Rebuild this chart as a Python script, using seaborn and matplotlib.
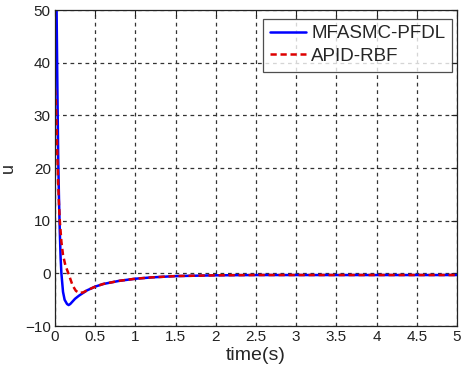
import numpy as np
import pandas as pd
import seaborn as sns
import matplotlib
matplotlib.use("Agg")
import matplotlib.pyplot as plt

t_blue = [0.0, 0.02, 0.03, 0.04, 0.05, 0.06, 0.07, 0.08, 0.10, 0.12, 0.15, 0.17, 0.19, 0.22, 0.25, 0.30,
          0.40, 0.50, 0.60, 0.80, 1.00, 1.20, 1.50, 2.00, 2.50, 3.00, 4.00, 5.00]
u_blue = [60.0, 50.0, 35.0, 22.0, 14.0, 8.0, 3.0, 0.0, -3.5, -5.0, -5.8, -6.0, -5.8, -5.3, -4.8, -4.2,
          -3.2, -2.5, -2.0, -1.4, -1.0, -0.75, -0.5, -0.35, -0.3, -0.3, -0.3, -0.3]

t_red = [0.0, 0.01, 0.02, 0.03, 0.04, 0.05, 0.06, 0.08, 0.10, 0.13, 0.16, 0.19, 0.22, 0.26, 0.30,
         0.35, 0.40, 0.50, 0.60, 0.80, 1.00, 1.20, 1.50, 2.00, 2.50, 3.00, 4.00, 5.00]
u_red = [35.0, 33.0, 28.0, 22.0, 17.0, 13.0, 10.0, 6.0, 3.5, 1.5, 0.3, -1.0, -2.3, -3.3, -3.7,
         -3.6, -3.2, -2.5, -2.0, -1.4, -1.0, -0.75, -0.5, -0.35, -0.3, -0.3, -0.3, -0.3]

labels = ["MFASMC-PFDL", "APID-RBF"]
x_ticks = [0, 0.5, 1, 1.5, 2, 2.5, 3, 3.5, 4, 4.5, 5]
x_tick_labels = ["0", "0.5", "1", "1.5", "2", "2.5", "3", "3.5", "4", "4.5", "5"]
y_ticks = [-10, 0, 10, 20, 30, 40, 50]

df = pd.concat([
    pd.DataFrame({"t": t_blue, "u": u_blue, "s": labels[0]}),
    pd.DataFrame({"t": t_red, "u": u_red, "s": labels[1]}),
])

sns.set_style("white")
plt.rcParams["font.family"] = ["Liberation Sans", "DejaVu Sans"]

fig = plt.figure(figsize=(4.62, 3.74), dpi=100)
ax = fig.add_axes([0.119, 0.128, 0.870, 0.845])

sns.lineplot(data=df, x="t", y="u", hue="s", style="s",
             palette={labels[0]: "#0000ff", labels[1]: "#dd0000"},
             dashes={labels[0]: "", labels[1]: (2.5, 1.5)},
             linewidth=1.8, ax=ax, sort=False, estimator=None)

ax.set_xlim(0, 5)
ax.set_ylim(-10, 50)
ax.set_xticks(x_ticks)
ax.set_xticklabels(x_tick_labels)
ax.set_yticks(y_ticks)
ax.grid(True, color="#333333", linestyle=(0, (3, 3)), linewidth=0.9)
ax.tick_params(direction="in", top=True, right=True, length=4, labelsize=11, colors="#222222", pad=3)
for sp in ax.spines.values():
    sp.set_color("#222222")
    sp.set_linewidth(0.9)
ax.set_xlabel("time(s)", fontsize=14, labelpad=2)
ax.set_ylabel("u", fontsize=13)
ax.yaxis.set_label_coords(-0.095, 0.5)

leg = ax.legend(loc="upper right", fontsize=13.5, handlelength=1.9, frameon=True, fancybox=False,
                edgecolor="#222222", borderaxespad=0.2, handletextpad=0.3, labelspacing=0.3,
                borderpad=0.35, bbox_to_anchor=(0.997, 0.985))
leg.get_frame().set_linewidth(0.9)

fig.savefig("out.png", dpi=100)
